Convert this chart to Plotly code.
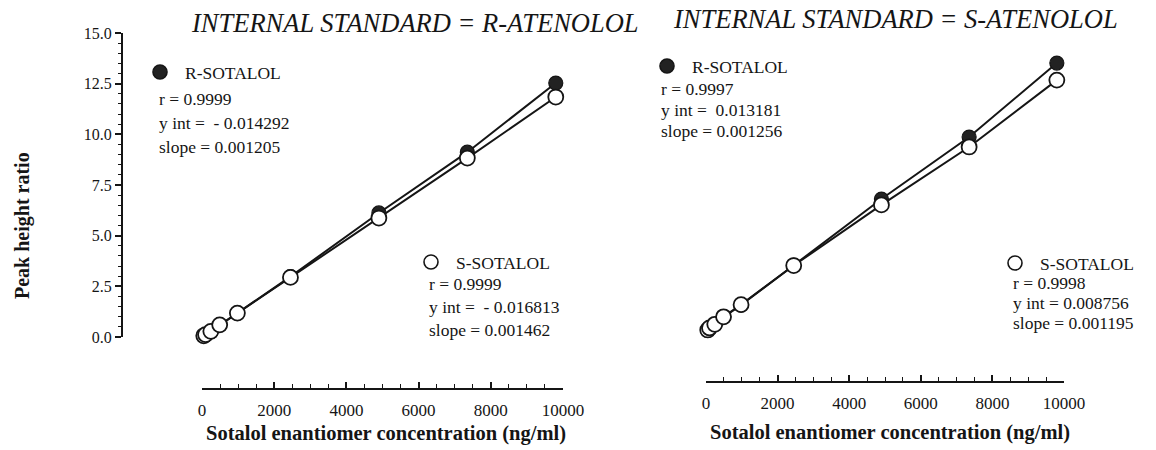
import plotly.graph_objects as go

# Sotalol enantiomer calibration standards (ng/ml)
concentration = [49, 98, 245, 490, 980, 2450, 4900, 7350, 9800]

# Peak height ratios, internal standard = R-atenolol
r_sotalol_ratenolol = [0.05, 0.10, 0.25, 0.58, 1.17, 2.98, 6.12, 9.12, 12.53]
s_sotalol_ratenolol = [0.06, 0.12, 0.28, 0.60, 1.18, 2.94, 5.87, 8.83, 11.84]

# Peak height ratios, internal standard = S-atenolol
r_sotalol_satenolol = [0.08, 0.18, 0.36, 0.73, 1.33, 3.30, 6.56, 9.62, 13.27]
s_sotalol_satenolol = [0.10, 0.20, 0.38, 0.75, 1.35, 3.28, 6.27, 9.13, 12.43]

panel_titles = ["INTERNAL STANDARD = R-ATENOLOL", "INTERNAL STANDARD = S-ATENOLOL"]
r_stats = [["r = 0.9999", "y int =  - 0.014292", "slope = 0.001205"],
           ["r = 0.9997", "y int =  0.013181", "slope = 0.001256"]]
s_stats = [["r = 0.9999", "y int =  - 0.016813", "slope = 0.001462"],
           ["r = 0.9998", "y int = 0.008756", "slope = 0.001195"]]

W, H = 1156, 450
SERIF = "Liberation Serif, Times New Roman, serif"
INK = "#151515"


def px(x):
    return x / W


def py(y):
    return 1 - y / H


fig = go.Figure()


def add_pair(xref, yref, r_vals, s_vals):
    fig.add_trace(go.Scatter(
        x=concentration, y=r_vals, xaxis=xref, yaxis=yref, mode="lines+markers",
        line=dict(color=INK, width=2),
        marker=dict(symbol="circle", size=14, color="#222222",
                    line=dict(color=INK, width=1.2)),
        cliponaxis=False, showlegend=False, name="R-SOTALOL"))
    fig.add_trace(go.Scatter(
        x=concentration, y=s_vals, xaxis=xref, yaxis=yref, mode="lines+markers",
        line=dict(color=INK, width=2),
        marker=dict(symbol="circle", size=15, color="white",
                    line=dict(color=INK, width=1.8)),
        cliponaxis=False, showlegend=False, name="S-SOTALOL"))


add_pair("x", "y", r_sotalol_ratenolol, s_sotalol_ratenolol)
add_pair("x2", "y2", r_sotalol_satenolol, s_sotalol_satenolol)

xaxis_common = dict(
    range=[0, 10000], anchor="free", showgrid=False, zeroline=False, automargin=False,
    showline=True, linecolor=INK, linewidth=2,
    ticks="inside", ticklen=6, tickwidth=1.6, tickcolor=INK, dtick=2000, tickformat="d",
    minor=dict(ticks="inside", ticklen=4, tickwidth=1.3, tickcolor=INK, dtick=500),
    tickfont=dict(family=SERIF, size=17, color=INK), ticklabelstandoff=6,
)

fig.update_layout(
    width=W, height=H, margin=dict(l=0, r=0, t=0, b=0, pad=0, autoexpand=False),
    paper_bgcolor="white", plot_bgcolor="white",
    xaxis=dict(domain=[px(202), px(563)], position=py(389), **xaxis_common),
    yaxis=dict(domain=[py(337), py(33)], range=[0, 15], anchor="free", position=px(122),
               automargin=False,
               showgrid=False, zeroline=False, showline=True, linecolor=INK, linewidth=2,
               ticks="outside", ticklen=6, tickwidth=1.6, tickcolor=INK,
               dtick=2.5, tickformat=".1f",
               minor=dict(ticks="outside", ticklen=3, tickwidth=1.1, tickcolor=INK, dtick=0.5),
               tickfont=dict(family=SERIF, size=16, color=INK)),
    xaxis2=dict(domain=[px(706), px(1064)], position=py(382), **xaxis_common),
    yaxis2=dict(domain=[py(332), py(28)], range=[0, 15], anchor="x2", visible=False,
                automargin=False),
)

annotations = []
shapes = []

# Panel titles
for title, cx, cy in zip(panel_titles, [415, 895], [23, 19]):
    annotations.append(dict(x=px(cx), y=py(cy), xref="paper", yref="paper",
                            text=f"<i>{title}</i>", showarrow=False,
                            font=dict(family=SERIF, size=26.5, color=INK),
                            xanchor="center", yanchor="middle"))

# Axis titles
annotations.append(dict(x=px(22), y=py(226), xref="paper", yref="paper",
                        text="<b>Peak height ratio</b>", showarrow=False, textangle=-90,
                        font=dict(family=SERIF, size=20, color=INK),
                        xanchor="center", yanchor="middle"))
for cx, cy in [(386, 433), (890, 432)]:
    annotations.append(dict(x=px(cx), y=py(cy), xref="paper", yref="paper",
                            text="<b>Sotalol enantiomer concentration (ng/ml)</b>",
                            showarrow=False, font=dict(family=SERIF, size=20.5, color=INK),
                            xanchor="center", yanchor="middle"))


def key_block(cx, cy, filled, label, stats, tx, ty0, step, size=17.5):
    shapes.append(dict(type="circle", xref="paper", yref="paper",
                       xsizemode="pixel", ysizemode="pixel",
                       xanchor=px(cx), yanchor=py(cy), x0=-7, x1=7, y0=-7, y1=7,
                       fillcolor="#222222" if filled else "white",
                       line=dict(color=INK, width=1.6)))
    annotations.append(dict(x=px(cx + 23), y=py(cy + 1), xref="paper", yref="paper",
                            text=label, showarrow=False,
                            font=dict(family=SERIF, size=size, color=INK),
                            xanchor="left", yanchor="middle"))
    for i, line in enumerate(stats):
        annotations.append(dict(x=px(tx), y=py(ty0 + i * step), xref="paper", yref="paper",
                                text=line, showarrow=False,
                                font=dict(family=SERIF, size=size, color=INK),
                                xanchor="left", yanchor="middle"))


key_block(160, 72, True, "R-SOTALOL", r_stats[0], 157, 99, 24)
key_block(431, 262, False, "S-SOTALOL", s_stats[0], 427, 284, 23)
key_block(667, 66, True, "R-SOTALOL", r_stats[1], 659, 89, 21)
key_block(1015, 263, False, "S-SOTALOL", s_stats[1], 1011, 283, 20)

fig.update_layout(annotations=annotations, shapes=shapes)

fig.write_html("out.html")
